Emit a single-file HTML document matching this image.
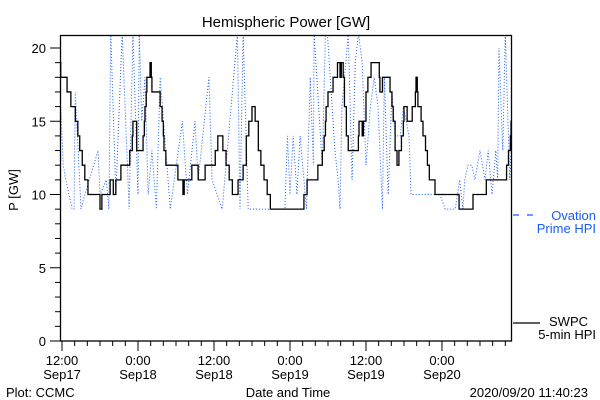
<!DOCTYPE html>
<html><head><meta charset="utf-8"><style>
html,body{margin:0;padding:0;background:#fff;}
svg{display:block;font-family:"Liberation Sans",sans-serif;}
text{font-size:13px;fill:#000;}
</style></head><body>
<svg id="chart" width="600" height="400" viewBox="0 0 600 400">
<defs><clipPath id="clip"><rect x="60" y="35" width="452" height="306"/></clipPath></defs>
<text x="286" y="27" text-anchor="middle" style="font-size:15px">Hemispheric Power [GW]</text>
<text transform="translate(18,190) rotate(-90)" text-anchor="middle">P [GW]</text>
<g id="yticks"></g>
<g id="xticks"></g>
<g clip-path="url(#clip)">
<path id="ovation" fill="none" stroke="#1a5cff" stroke-width="1" stroke-dasharray="1,2"/>
<path id="swpc" fill="none" stroke="#000" stroke-width="1.3"/>
</g>
<rect x="60.5" y="35.5" width="451" height="305.5" fill="none" stroke="#000" stroke-width="1.3"/>
<g>
<line x1="513" y1="215" x2="540" y2="215" stroke="#1a5cff" stroke-dasharray="6,8" stroke-width="1.2"/>
<text x="596" y="220" text-anchor="end" style="fill:#1a5cff">Ovation</text>
<text x="596" y="233" text-anchor="end" style="fill:#1a5cff">Prime HPI</text>
</g>
<g>
<line x1="513" y1="323" x2="540" y2="323" stroke="#000" stroke-width="1.2"/>
<text x="588" y="326" text-anchor="end">SWPC</text>
<text x="596" y="339" text-anchor="end">5-min HPI</text>
</g>
<text x="6" y="397">Plot: CCMC</text>
<text x="288" y="397" text-anchor="middle">Date and Time</text>
<text x="588" y="397" text-anchor="end">2020/09/20 11:40:23</text>
</svg>
<script>
// hours since 2020-09-17 12:00
const swpcTimes=[-0.3,-0.2,0.8,1.4,2.1,2.5,2.8,3.2,3.6,4.1,6.0,6.3,7.6,8.1,8.5,9.3,10.7,11.1,11.2,11.8,12.8,13.0,13.1,13.3,13.4,13.9,14.1,14.2,15.5,15.8,16.0,16.1,16.4,18.3,19.1,19.3,20.5,21.5,22.6,24.2,24.6,25.4,25.9,26.4,26.9,27.8,28.6,29.1,29.5,30.0,30.5,31.0,31.4,31.9,32.4,32.9,38.2,38.7,40.4,41.1,41.4,41.6,41.7,42.0,42.8,43.5,43.9,44.1,44.4,44.6,44.9,45.2,46.8,46.9,47.4,47.6,48.0,48.3,48.8,50.1,50.2,50.6,51.8,52.1,52.3,52.6,52.9,53.2,53.6,53.9,54.0,54.5,55.3,55.8,55.9,56.1,56.2,56.7,57.0,57.4,57.7,58.0,58.9,62.7,64.9,67.0,70.2,70.5,70.8,70.9,71.2];
const swpcValues=[19,18,17,16,15,14,13,12,11,10,9,10,11,10,11,12,13,14,15,13,14,15,16,17,18,19,18,17,16,15,14,13,12,11,10,11,12,11,12,13,14,13,12,11,10,11,12,14,15,16,15,13,12,11,10,9,10,11,12,13,14,15,16,17,18,19,18,19,18,16,14,13,14,15,14,15,17,18,19,18,17,18,17,16,15,13,12,13,14,15,16,15,16,17,18,17,16,15,14,13,12,11,10,9,10,11,12,13,14,15,15];
const ovationTimes=[-0.2,0.2,0.6,1.6,1.9,2.1,3.0,3.6,5.7,6.0,7.0,7.4,7.7,8.5,9.5,10.6,11.2,12.0,12.2,12.6,13.1,13.6,14.2,14.9,15.5,17.1,19.0,19.8,21.0,21.5,23.2,23.7,25.3,27.7,28.1,28.6,29.4,35.2,35.6,36.0,36.5,37.1,37.6,38.6,39.2,39.7,39.8,41.1,41.6,41.9,43.1,43.6,43.9,44.2,45.2,45.8,46.3,46.8,47.4,48.0,48.7,49.3,49.9,50.6,50.9,51.5,52.1,52.6,53.4,53.9,54.8,55.1,55.6,59.7,60.5,62.1,62.8,63.3,63.6,64.1,64.7,65.2,66.0,66.8,67.3,67.9,68.5,68.8,69.0,69.6,70.0,70.7,71.1];
const ovationValues=[16,12,11,9,9,17,9,10,13,10,11,9,21,10,21,9,21,10,21,15,18,10,13,9,18,9,15,10,15,11,18,11,9,21,9,21,9,9,14,10,14,10,14,9,18,12,21,12,21,21,13,11,9,16,21,11,19,21,19,12,16,18,16,9,18,10,17,14,14,16,14,10,10,10,9,9,11,9,11,12,12,11,13,11,13,10,13,11,20,13,21,11,15];
const xTickHours=[0,12,24,36,48,60];
const xTickLabels1=["12:00","0:00","12:00","0:00","12:00","0:00"];
const xTickLabels2=["Sep17","Sep18","Sep18","Sep19","Sep19","Sep20"];
const yTickValues=[0,5,10,15,20];

const X=h=>62+h*6.333;
const Y=v=>341-v*14.65;
const NS="http://www.w3.org/2000/svg";
function mk(tag,attrs,parent){const e=document.createElementNS(NS,tag);for(const k in attrs)e.setAttribute(k,attrs[k]);parent.appendChild(e);return e;}

let d="M"+X(swpcTimes[0])+","+Y(swpcValues[0]);
for(let i=1;i<swpcTimes.length;i++){d+=" H"+X(swpcTimes[i])+" V"+Y(swpcValues[i]);}
document.getElementById('swpc').setAttribute('d',d);
let d2="";
for(let i=0;i<ovationTimes.length;i++){d2+=(i?" L":"M")+X(ovationTimes[i])+","+Y(ovationValues[i]);}
document.getElementById('ovation').setAttribute('d',d2);

const yg=document.getElementById('yticks');
for(let v=0;v<=20;v++){
  const major=yTickValues.includes(v);
  const t=mk('line',{x1:major?50:55,x2:60,y1:Y(v),y2:Y(v),stroke:'#000'},yg);
  
  
}
yTickValues.forEach(v=>{
  const t=mk('text',{x:46,y:Y(v)+5,'text-anchor':'end'},yg);
  t.textContent=v;
  
  
});
const xg=document.getElementById('xticks');
for(let h=0;h<=70;h+=2){
  const major=xTickHours.includes(h);
  const t=mk('line',{x1:X(h),x2:X(h),y1:341,y2:major?351:346,stroke:'#000'},xg);
  
  
}
xTickHours.forEach((h,i)=>{
  const a=mk('text',{x:X(h),y:365,'text-anchor':'middle'},xg);
  a.textContent=xTickLabels1[i];
  
  
  const b=mk('text',{x:X(h),y:379,'text-anchor':'middle'},xg);
  b.textContent=xTickLabels2[i];
  
  
});
</script>
</body></html>
